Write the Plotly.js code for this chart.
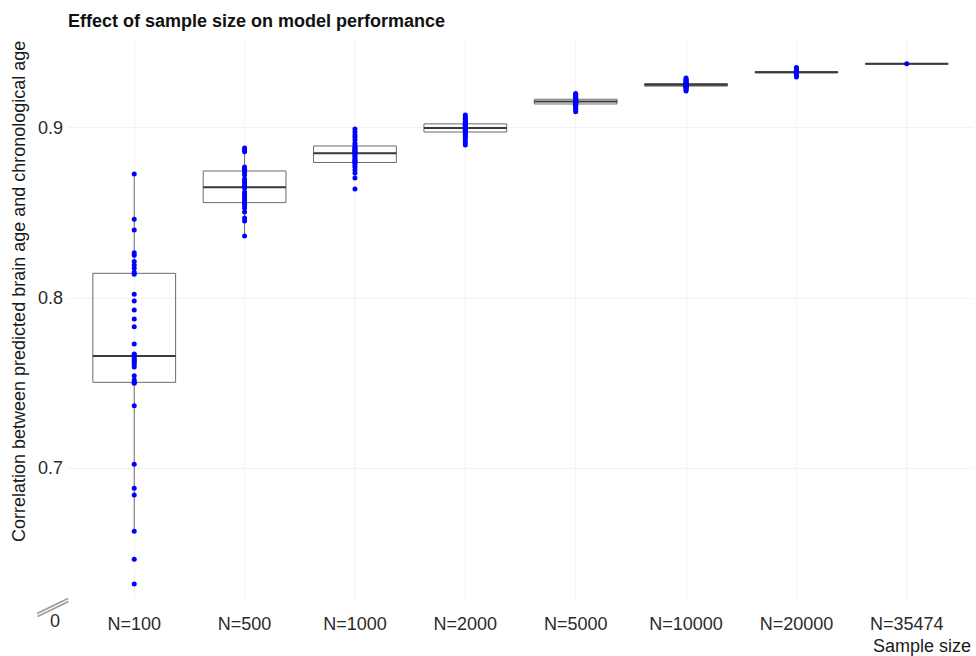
<!DOCTYPE html>
<html>
<head>
<meta charset="utf-8">
<script src="https://cdn.plot.ly/plotly-3.0.1.min.js"></script>
<style>html,body{margin:0;padding:0;background:#fff;}#chart{width:976px;height:656px;}</style>
</head>
<body>
<div id="chart"></div>
<script>
// ---- data ----
const categories = ["N=100","N=500","N=1000","N=2000","N=5000","N=10000","N=20000","N=35474"];

const r_n100 = [0.6318,0.6463,0.6629,0.6841,0.6881,0.7022,0.7366,0.7498,0.7502,
  0.7506,0.7518,0.7543,0.7594,0.7610,0.7624,0.7632,0.7639,0.7652,
  0.7666,0.7671,0.7729,0.7831,0.7876,0.7929,0.7982,0.8022,0.8139,
  0.8151,0.8175,0.8194,0.8214,0.8251,0.8266,0.8400,0.8463,0.8729];
const r_n500 = [0.8365,0.8453,0.8471,0.8506,0.8530,0.8545,0.8556,
  0.8566,0.8576,0.8588,0.8600,0.8612,0.8624,0.8647,0.8655,0.8665,0.8676,0.8688,0.8700,0.8724,0.8740,
  0.8754,0.8759,0.8765,0.8771,0.8860,0.8871,0.8882];
const r_n1000 = [0.8641,0.8706,0.8735,0.8753,0.8771,0.8782,0.8794,
  0.8800,0.8806,0.8812,0.8818,0.8829,0.8838,0.8847,0.8855,0.8860,0.8865,0.8871,0.8876,0.8882,0.8888,
  0.8900,0.8912,0.8930,0.8947,0.8959,0.8976,0.8994];
const r_n2000 = [0.8900,0.8915,0.8930,0.8945,0.8955,0.8965,0.8972,
  0.8980,0.8984,0.8988,0.8991,0.8994,0.8997,0.8999,0.9001,0.9004,0.9008,0.9012,0.9016,0.9019,0.9022,
  0.9026,0.9032,0.9040,0.9048,0.9056,0.9066,0.9076];
const r_n5000 = [0.9096,0.9108,0.9118,0.9126,0.9132,0.9136,0.9139,
  0.9143,0.9145,0.9147,0.9149,0.9151,0.9153,0.9154,0.9156,0.9158,0.9160,0.9162,0.9164,0.9166,0.9168,
  0.9170,0.9174,0.9178,0.9184,0.9190,0.9196,0.9202];
const r_n10000 = [0.9218,0.9225,0.9231,0.9236,0.9240,0.9243,0.9245,
  0.9247,0.9248,0.9249,0.9250,0.9251,0.9252,0.9253,0.9254,0.9255,0.9256,0.9257,0.9258,0.9259,0.9260,
  0.9262,0.9265,0.9270,0.9275,0.9281,0.9287,0.9294];
const r_n20000 = [0.9300,0.9307,0.9313,0.9318,0.9321,0.9323,0.9324,
  0.9325,0.9325,0.9326,0.9326,0.9327,0.9327,0.9328,0.9328,0.9329,0.9329,0.9330,0.9330,0.9331,0.9331,
  0.9332,0.9334,0.9337,0.9341,0.9345,0.9350,0.9355];
const r_n35474 = [0.9377];

const seriesValues = [r_n100,r_n500,r_n1000,r_n2000,r_n5000,r_n10000,r_n20000,r_n35474];

const titleText = "Effect of sample size on model performance";
const yTitleText = "Correlation between predicted brain age and chronological age";
const xTitleText = "Sample size";
const yTickVals = [0.7,0.8,0.9];
const yTickText = ["0.7","0.8","0.9"];

// ---- layout geometry ----
const W = 976, H = 656;
const M = {l:68, r:3, t:38, b:56};
const PW = W - M.l - M.r, PH = H - M.t - M.b;
const px = p => (p - M.l) / PW;          // pixel -> paper x
const py = p => (H - M.b - p) / PH;      // pixel -> paper y

function median(a){
  const s = a.slice().sort((u,v)=>u-v);
  const n = s.length;
  return n % 2 ? s[(n-1)/2] : (s[n/2-1] + s[n/2]) / 2;
}

const traces = [];
const boxW = 0.75;
seriesValues.forEach((vals, i) => {
  traces.push({
    type: 'box',
    x: vals.map(() => i),
    y: vals,
    width: boxW,
    boxpoints: 'outliers',
    marker: {color: 'rgba(0,0,0,0)', size: 1},
    line: {color: '#6a6a6a', width: 1},
    fillcolor: 'rgba(255,255,255,0)',
    whiskerwidth: 0,
    showlegend: false,
    hoverinfo: 'skip'
  });
});
// median lines (ggplot-style thicker median)
seriesValues.forEach((vals, i) => {
  const m = median(vals);
  traces.push({
    type: 'scatter', mode: 'lines',
    x: [i - boxW/2, i + boxW/2], y: [m, m],
    line: {color: '#3a3a3a', width: 2},
    showlegend: false, hoverinfo: 'skip'
  });
});
// all points
const ptX = [], ptY = [];
seriesValues.forEach((vals, i) => vals.forEach(v => { ptX.push(i); ptY.push(v); }));
traces.push({
  type: 'scatter', mode: 'markers',
  x: ptX, y: ptY,
  marker: {color: '#0000ff', size: 5, line: {width: 0}},
  showlegend: false, hoverinfo: 'skip'
});

const font = "Liberation Sans, Arial, Helvetica, sans-serif";

const layout = {
  width: W, height: H,
  margin: M,
  paper_bgcolor: '#ffffff',
  plot_bgcolor: '#ffffff',
  showlegend: false,
  font: {family: font, size: 18, color: '#333333'},
  title: {
    text: '<b>' + titleText + '</b>',
    font: {family: font, size: 18, color: '#111111'},
    x: M.l / W, xref: 'container', xanchor: 'left',
    y: 1 - 21 / H, yref: 'container', yanchor: 'middle'
  },
  xaxis: {
    type: 'linear',
    range: [-0.6, categories.length - 1 + 0.6],
    tickvals: categories.map((c, i) => i),
    ticktext: categories,
    showgrid: true, gridcolor: '#f3f3f3', gridwidth: 1,
    zeroline: false, showline: false, ticks: '',
    ticklabelstandoff: 11,
    tickfont: {family: font, size: 18, color: '#2a2a2a'},
    fixedrange: true
  },
  yaxis: {
    range: [0.6224, 0.9529],
    tickvals: yTickVals,
    ticktext: yTickText,
    showgrid: true, gridcolor: '#f3f3f3', gridwidth: 1,
    zeroline: false, showline: false, ticks: '',
    ticklabelstandoff: 4,
    tickfont: {family: font, size: 18, color: '#2a2a2a'},
    fixedrange: true
  },
  annotations: [
    {text: yTitleText, textangle: -90, showarrow: false,
     xref: 'paper', yref: 'paper', x: px(19), y: py(292),
     xanchor: 'center', yanchor: 'middle',
     font: {family: font, size: 18, color: '#1a1a1a'}},
    {text: xTitleText, showarrow: false,
     xref: 'paper', yref: 'paper', x: px(973), y: py(645.5),
     xanchor: 'right', yanchor: 'middle',
     font: {family: font, size: 18, color: '#1a1a1a'}},
    {text: '0', showarrow: false,
     xref: 'paper', yref: 'paper', x: px(55), y: py(621),
     xanchor: 'center', yanchor: 'middle',
     font: {family: font, size: 18, color: '#2a2a2a'}}
  ],
  shapes: [
    {type: 'line', xref: 'paper', yref: 'paper',
     x0: px(37), y0: py(613.5), x1: px(68), y1: py(598.5),
     line: {color: '#9a9a9a', width: 1.5}},
    {type: 'line', xref: 'paper', yref: 'paper',
     x0: px(37.5), y0: py(616.5), x1: px(68.5), y1: py(601.5),
     line: {color: '#9a9a9a', width: 1.5}}
  ]
};

Plotly.newPlot('chart', traces, layout, {displayModeBar: false, staticPlot: true});
</script>
</body>
</html>
